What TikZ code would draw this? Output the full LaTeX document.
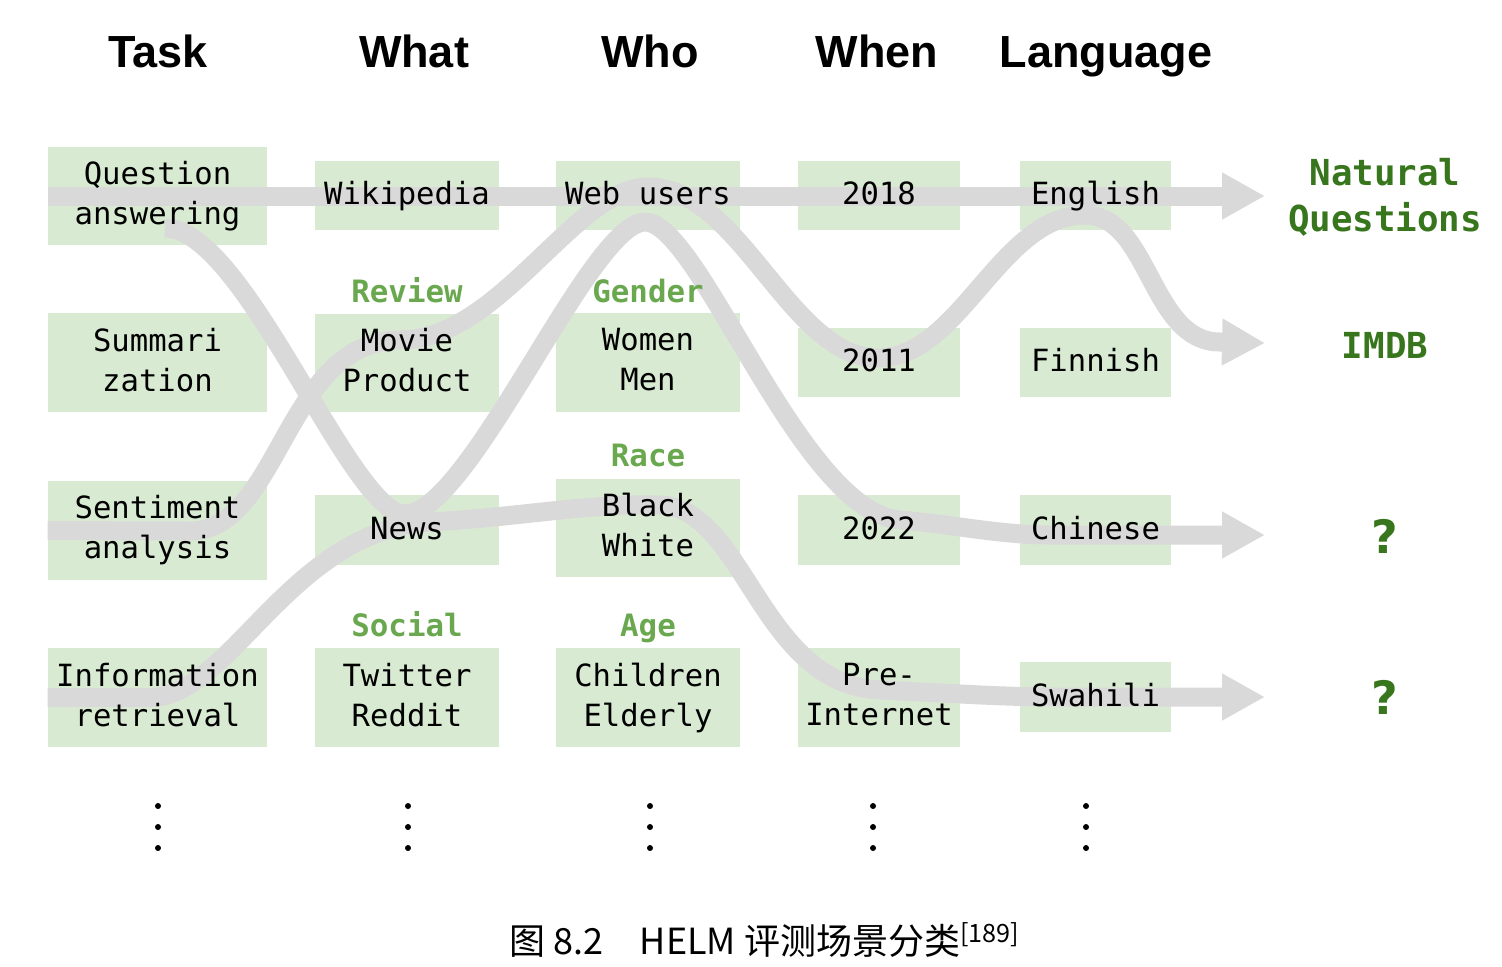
\documentclass[tikz,border=0pt]{standalone}
\usepackage{fontspec}
\setmainfont{DejaVu Sans}
\newfontfamily\boxfont{DejaVu Sans Mono}
\newfontfamily\headfont{Liberation Sans}
\newfontfamily\cjk{Noto Sans CJK SC}
\usetikzlibrary{arrows.meta}
\definecolor{boxgreen}{HTML}{D9EAD3}
\definecolor{flowgray}{HTML}{D9D9D9}
\definecolor{catgreen}{HTML}{6AA84F}
\definecolor{resgreen}{HTML}{38761D}
\pgfdeclarelayer{boxfill}
\pgfdeclarelayer{flows}
\pgfsetlayers{boxfill,flows,main}
\newcommand\bxs{\rule[-3pt]{0pt}{15pt}}

\begin{document}
\begin{tikzpicture}[x=0.5pt,y=-0.5pt,
  box/.style={inner sep=0pt, align=center, minimum height=34.5pt,
    font=\fontsize{15.3}{20}\selectfont\boxfont,
    execute at begin node=\bxs, execute at end node=\bxs},
  tall/.style={minimum height=49pt},
  taskbox/.style={box, minimum width=109.5pt},
  whatbox/.style={box, minimum width=92pt},
  whobox/.style={box, minimum width=92pt},
  whenbox/.style={box, minimum width=81pt},
  langbox/.style={box, minimum width=75.5pt},
  colhead/.style={anchor=base, font=\fontsize{22.5}{27}\selectfont\headfont\bfseries},
  catlabel/.style={anchor=base, text=catgreen, font=\fontsize{15.4}{18}\selectfont\boxfont\bfseries},
  result/.style={text=resgreen, align=center, font=\fontsize{17.9}{23}\selectfont\boxfont\bfseries},
  qmark/.style={font=\fontsize{23}{28}\selectfont\bfseries},
  flow/.style={draw=flowgray, line width=9.5pt},
  flowtip/.style={-{Triangle[width=22pt,length=21.5pt]}}
]
\useasboundingbox (0,0) rectangle (1502,966);

% column heads
\node[colhead] (hTask) at (158,67) {Task};
\node[colhead] (hWhat) at (414,67) {What};
\node[colhead] (hWho) at (650,67) {Who};
\node[colhead] (hWhen) at (877,67) {When};
\node[colhead] (hLang) at (1106,67) {Language};

% boxes
\node[taskbox, tall] (qa) at (157.5,196) {Question\\answering};
\node[taskbox, tall] (summ) at (157.5,362.5) {Summari\\zation};
\node[taskbox, tall] (sent) at (157.5,530.5) {Sentiment\\analysis};
\node[taskbox, tall] (ir) at (157.5,697.5) {Information\\retrieval};
\node[whatbox] (wiki) at (407,195.5) {Wikipedia};
\node[whatbox, tall] (movie) at (407,363) {Movie\\Product};
\node[whatbox] (news) at (407,530) {News};
\node[whatbox, tall] (twitter) at (407,697.5) {Twitter\\Reddit};
\node[whobox] (web) at (648,195.5) {Web users};
\node[whobox, tall] (women) at (648,362.5) {Women\\Men};
\node[whobox, tall] (black) at (648,528) {Black\\White};
\node[whobox, tall] (children) at (648,697.5) {Children\\Elderly};
\node[whenbox] (y2018) at (879,195.5) {2018};
\node[whenbox] (y2011) at (879,362.5) {2011};
\node[whenbox] (y2022) at (879,530) {2022};
\node[whenbox, tall] (pre) at (879,697.5) {Pre-\\Internet};
\node[langbox] (english) at (1095.5,195.5) {English};
\node[langbox] (finnish) at (1095.5,362.5) {Finnish};
\node[langbox] (chinese) at (1095.5,530) {Chinese};
\node[langbox] (swahili) at (1095.5,697) {Swahili};

% category labels
\node[catlabel] (cReview) at (407,302) {Review};
\node[catlabel] (cGender) at (648,302) {Gender};
\node[catlabel] (cRace) at (648,466) {Race};
\node[catlabel] (cSocial) at (407,636) {Social};
\node[catlabel] (cAge) at (648,636) {Age};

% scenarios
\node[result] (nq) at (1385,197) {Natural\\Questions};
\node[result] (imdb) at (1385,345) {IMDB};
\node[result, qmark] (q1) at (1385,536) {?};
\node[result, qmark] (q2) at (1385,697) {?};

\coordinate (nqtip) at (1265,196);
\coordinate (imdbtip) at (1265,343);
\coordinate (zhtip) at (1265,535);
\coordinate (swtip) at (1265,697);
\coordinate (qaOut) at (165,228);

\begin{pgfonlayer}{boxfill}
\foreach \n in {qa,summ,sent,ir,wiki,movie,news,twitter,web,women,black,children,y2018,y2011,y2022,pre,english,finnish,chinese,swahili}
  \fill[boxgreen] (\n.south west) rectangle (\n.north east);
\end{pgfonlayer}

\begin{pgfonlayer}{flows}
% Natural Questions
\path[flow, flowtip] (qa.west) -- (nqtip);
% IMDB
\path[flow, flowtip] (sent.west) -- (190,531)
  .. controls (280,531) and (285,340) .. (400,340)
  .. controls (500,340) and (575,187) .. (648,187)
  .. controls (740,187) and (790,358) .. (878,358)
  .. controls (960,358) and (1000,215) .. (1085,215)
  .. controls (1150,215) and (1150,342) .. (1220,342)
  -- (imdbtip);
% QA - News - 2022 - Chinese
\path[flow, flowtip] (qaOut)
  .. controls (245,228) and (350,514) .. (405,514)
  .. controls (470,514) and (590,222) .. (645,222)
  .. controls (700,222) and (800,512) .. (900,520)
  .. controls (950,524) and (1000,535) .. (1050,535)
  -- (zhtip);
% IR - News - Black/White - Pre-Internet - Swahili
\path[flow, flowtip] (ir.west) -- (150,697.5)
  .. controls (230,697.5) and (290,530) .. (430,522)
  .. controls (520,517) and (590,503) .. (660,505)
  .. controls (745,508) and (760,685) .. (880,690)
  .. controls (950,693) and (1000,697) .. (1060,697)
  -- (swtip);
\end{pgfonlayer}

% dots
\foreach \x in {158,408,650,873,1086}
  \foreach \y in {806,827,848}
    \fill (\x,\y) circle (3);

\node[font=\fontsize{18}{22}\selectfont\cjk] (caption) at (765,940) {图 8.2\quad HELM 评测场景分类\textsuperscript{[189]}};
\end{tikzpicture}
\end{document}
